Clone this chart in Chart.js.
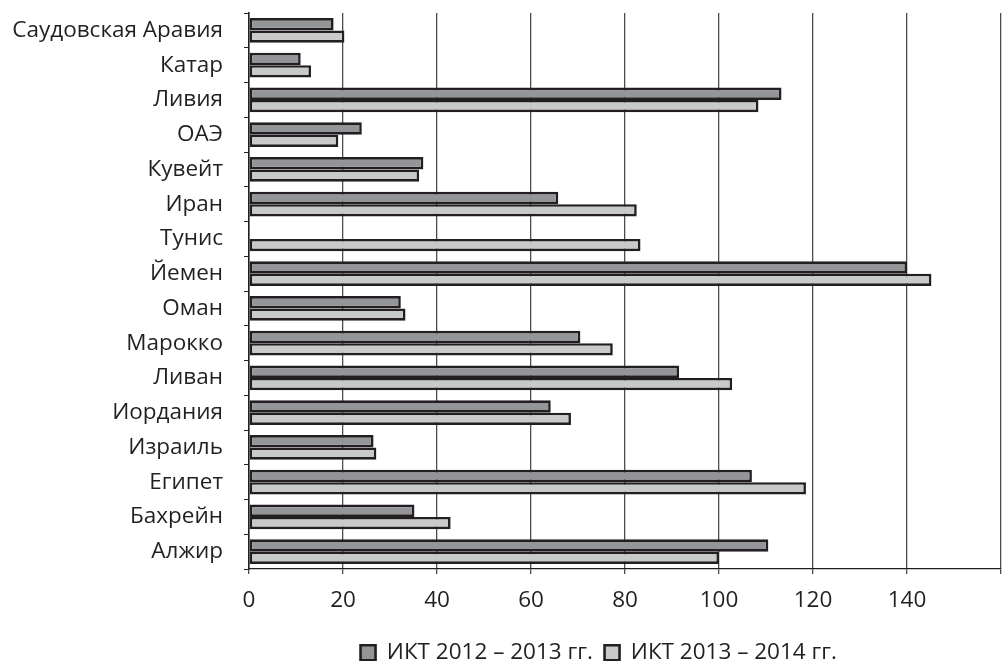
<!DOCTYPE html>
<html>
<head>
<meta charset="utf-8">
<script src="https://cdn.jsdelivr.net/npm/chart.js@4"></script>
<style>
html,body{margin:0;padding:0;background:#fff;}
#wrap{width:1002px;height:661px;}
</style>
</head>
<body>
<div id="wrap"><canvas id="c" width="1002" height="661"></canvas></div>
<script>
const categories = ["Саудовская Аравия","Катар","Ливия","ОАЭ","Кувейт","Иран","Тунис","Йемен","Оман","Марокко","Ливан","Иордания","Израиль","Египет","Бахрейн","Алжир"];
const ict2012 = [18, 11, 113.3, 24, 37.1, 65.8, null, 140, 32.3, 70.5, 91.5, 64.2, 26.5, 107, 35.2, 110.5];
const ict2013 = [20.3, 13.2, 108.4, 19, 36.2, 82.5, 83.3, 145.2, 33.3, 77.4, 102.8, 68.5, 27.1, 118.5, 42.9, 100];
const seriesNames = ["ИКТ 2012 – 2013 гг.", "ИКТ 2013 – 2014 гг."];
const xTicks = [0, 20, 40, 60, 80, 100, 120, 140];

const FONT = {family: "'Open Sans', 'Noto Sans', sans-serif", size: 22.5};
const INK = '#231f20';

const legendGen = Chart.defaults.plugins.legend.labels.generateLabels;

new Chart(document.getElementById('c'), {
  type: 'bar',
  data: {
    labels: categories,
    datasets: [
      {label: seriesNames[0], data: ict2012, backgroundColor: '#939598', borderColor: INK, borderWidth: 2.6, borderSkipped: false, categoryPercentage: 0.71, barPercentage: 1},
      {label: seriesNames[1], data: ict2013, backgroundColor: '#c8c9cb', borderColor: INK, borderWidth: 2.6, borderSkipped: false, categoryPercentage: 0.71, barPercentage: 1}
    ]
  },
  options: {
    indexAxis: 'y',
    responsive: false,
    animation: false,
    layout: {padding: {top: 13, right: 1, left: 0, bottom: -13}},
    plugins: {
      tooltip: {enabled: false},
      legend: {
        position: 'bottom',
        fullSize: false,
        labels: {
          boxWidth: 15, boxHeight: 15, font: FONT, color: INK, padding: 0,
          generateLabels: chart => legendGen(chart).map((l, i) => Object.assign(l, {text: l.text + (i === 0 ? '  ' : '         ')}))
        }
      }
    },
    scales: {
      x: {
        min: 0, max: 160,
        afterBuildTicks: s => { s.ticks = xTicks.concat([160]).map(v => ({value: v})); },
        ticks: {font: FONT, color: INK, padding: 13, maxRotation: 0, callback: v => xTicks.includes(v) ? String(v) : ''},
        grid: {color: '#4d4d4f', lineWidth: 1.3, tickLength: 5},
        border: {color: INK, width: 1.3},
        afterFit: s => { s.height = 72.5; s.paddingLeft = 0; s.paddingRight = 0; }
      },
      y: {
        ticks: {font: FONT, color: INK, padding: 21},
        grid: {offset: true, drawOnChartArea: false, tickLength: 5, color: INK},
        border: {color: INK, width: 1.5},
        afterFit: s => { s.width = 249; s.paddingTop = 0; s.paddingBottom = 0; }
      }
    }
  }
});
</script>
</body>
</html>
